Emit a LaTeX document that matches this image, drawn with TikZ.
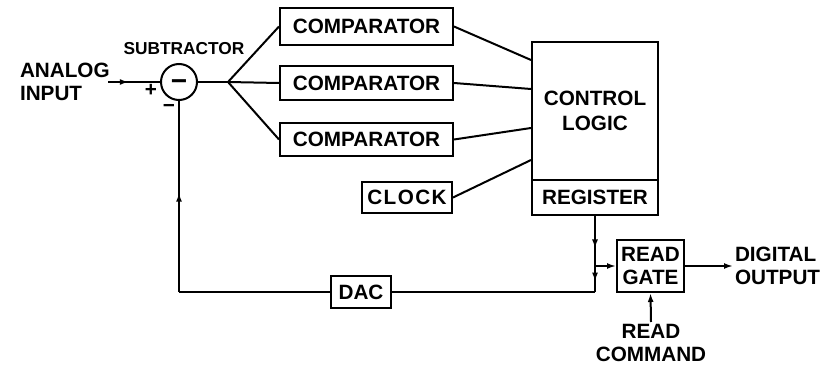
\documentclass[tikz,border=0pt]{standalone}
\usepackage{fontspec}
\setmainfont{Liberation Sans}
\usetikzlibrary{arrows.meta,decorations.markings}
\newcommand{\lblfont}{\fontsize{20.7}{23}\selectfont\bfseries}
\newcommand{\smlfont}{\fontsize{17.3}{20}\selectfont\bfseries}

\begin{document}
\begin{tikzpicture}[x=1pt,y=-1pt,line width=2pt,
	>={Latex[length=9pt,width=6pt]},
	blk/.style={draw, inner sep=0pt, font=\lblfont},
	txt/.style={font=\lblfont, inner sep=1pt},
	midarrow/.style={postaction={decorate},
		decoration={markings,mark=at position #1 with {\arrow{>}}}}]
	\useasboundingbox (0,0) rectangle (834,371);

	% subtractor and input side
	\node[txt, align=left, anchor=west] (ain) at (18,82) {ANALOG\\INPUT};
	\coordinate (in) at (108,82);
	\node[draw, circle, minimum size=36pt, inner sep=0pt] (sub) at (179,82) {};
	\node[font=\fontsize{28}{28}\selectfont\bfseries, inner sep=0pt, anchor=base]
		(subsign) at ([yshift=-9pt]sub.center) {−};
	\node[font=\smlfont, inner sep=0pt] (subname) at (184,49) {SUBTRACTOR};
	\node[font=\lblfont, inner sep=0pt] (plus) at (151,90) {+};
	\node[font=\lblfont, inner sep=0pt] (minus) at (169,108) {−};
	\coordinate (fork) at (228,82);

	% comparators and clock
	\node[blk, minimum width=173pt, minimum height=37pt] (comp1) at (366.5,26.5) {COMPARATOR};
	\node[blk, minimum width=173pt, minimum height=34pt] (comp2) at (366.5,83) {COMPARATOR};
	\node[blk, minimum width=173pt, minimum height=33pt] (comp3) at (366.5,139.5) {COMPARATOR};
	\node[blk, minimum width=90pt, minimum height=31pt] (clk) at (407,197.5)
		{\addfontfeature{LetterSpace=7}CLOCK};

	% control logic with its register
	\node[blk, minimum width=126pt, minimum height=138pt, align=center,
		font=\fontsize{20.7}{25}\selectfont\bfseries] (ctl) at (595,111) {CONTROL\\LOGIC};
	\node[blk, minimum width=126pt, minimum height=35pt] (reg) at (595,197.5) {REGISTER};

	% output side
	\node[blk, minimum width=67pt, minimum height=52pt, align=center] (gate) at (650.5,266) {READ\\GATE};
	\node[txt, align=left, anchor=west] (dout) at (733,266) {DIGITAL\\OUTPUT};
	\node[txt, align=center, anchor=north] (rcmd) at (651,322) {READ\\COMMAND};
	\node[blk, minimum width=60pt, minimum height=32pt] (dac) at (361,292) {DAC};

	\coordinate (j1) at (reg.south |- gate.west);
	\coordinate (j2) at (reg.south |- dac.east);
	\coordinate (fb) at (sub.south |- dac.west);

	% connections
	\draw[midarrow=0.4] (in) -- (sub.west);
	\draw (sub.east) -- (fork);
	\draw (fork) -- (comp1.west);
	\draw (fork) -- (comp2.west);
	\draw (fork) -- (comp3.west);
	\draw (comp1.east) -- ([yshift=51pt]ctl.west);
	\draw (comp2.east) -- ([yshift=22pt]ctl.west);
	\draw (comp3.east) -- ([yshift=-17pt]ctl.west);
	\draw (clk.east) -- ([yshift=-49pt]ctl.west);
	\draw[midarrow=0.65] (reg.south) -- (j1);
	\draw[->] (j1) -- (gate.west);
	\draw[midarrow=0.6] (j1) -- (j2);
	\draw (j2) -- (dac.east);
	\draw (dac.west) -- (fb);
	\draw[midarrow=0.52] (fb) -- (sub.south);
	\draw[->] (gate.east) -- (dout.west);
	\draw[->] (rcmd.north) -- (gate.south);
\end{tikzpicture}
\end{document}
